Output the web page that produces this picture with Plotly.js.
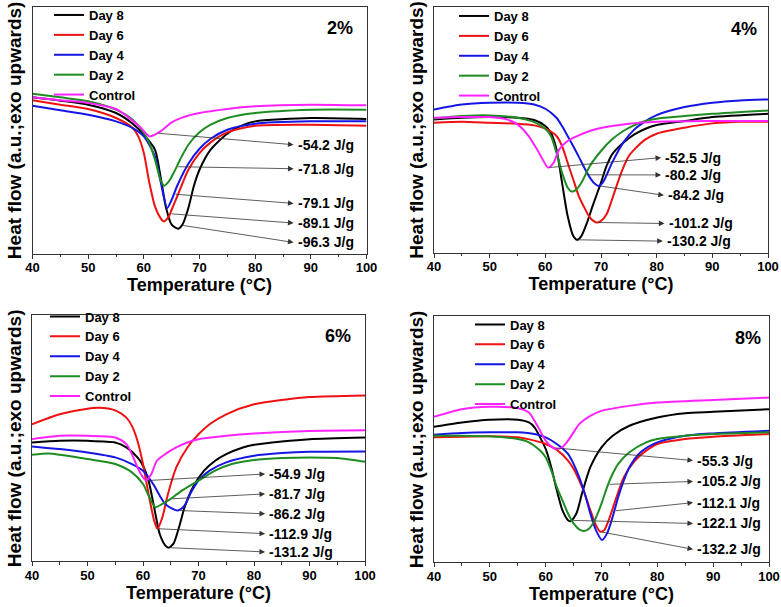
<!DOCTYPE html>
<html><head><meta charset="utf-8">
<script src="https://cdn.plot.ly/plotly-3.0.1.min.js"></script>
<style>html,body{margin:0;padding:0;background:#fff}#chart{width:781px;height:607px}</style>
</head><body><div id="chart"></div>
<script>
// ---------- DATA ----------
const seriesNames = ['Day 8', 'Day 6', 'Day 4', 'Day 2', 'Control'];
const panelLabels = ['2%', '4%', '6%', '8%'];

// Panel 1 (2%)
const p1_day8_T = [40,45,50,55,58,60,62,63,64,65,66.2,67,68,69,70,72,75,78,80,90,100];
const p1_day8_hf = [469,459,447,422,390,357,312,232,137,87,75,89,137,204,252,312,360,387,397,407,404];
const p1_day6_T = [40,45,50,55,58,59,60,61,62,63,63.6,64.5,65,66,68,70,72,75,80,90,100];
const p1_day6_hf = [460,447,434,407,377,352,302,212,142,107,97,112,132,172,252,302,334,364,384,387,384];
const p1_day4_T = [40,45,50,55,58,60,62,63,64.2,65,66,68,70,72,75,80,90,100];
const p1_day4_hf = [444,430,417,397,377,352,292,217,137,162,204,270,315,345,372,390,397,397];
const p1_day2_T = [40,45,50,55,58,60,61,62,63,63.6,64.5,65.5,66.5,68,70,72,75,80,90,100];
const p1_day2_hf = [480,469,457,432,402,362,332,282,222,204,217,247,282,327,364,387,407,422,432,432];
const p1_ctrl_T = [40,45,50,55,57,59.5,61,63,65,67,70,75,80,90,100];
const p1_ctrl_hf = [469,460,452,434,412,377,352,367,394,409,422,434,442,447,445];
const p1_enthalpy = ['-54.2 J/g','-71.8 J/g','-79.1 J/g','-89.1 J/g','-96.3 J/g'];
const p1_peakSeries = ['Control','Day 2','Day 4','Day 6','Day 8'];
const p1_peakT = [62.3, 65.9, 65.4, 64.7, 66.8];

// Panel 2 (4%)
const p2_day8_T = [40,45,50,55,58,60,61,62,63,64,65,65.7,66.5,67.5,68.5,70,71,72,74,76,78,80,85,90,100];
const p2_day8_hf = [401,406,408,406,399,381,361,311,211,111,51,39,51,91,141,211,261,296,331,356,373,384,396,408,418];
const p2_day6_T = [40,45,50,55,58,60,62,63,64,65,66,67,68,69.2,70,71,72,73,74,75,76,78,80,85,90,95,100];
const p2_day6_hf = [391,394,391,388,383,373,351,321,271,221,171,136,106,91,96,116,161,211,256,291,311,341,358,376,389,394,394];
const p2_day4_T = [40,45,50,55,58,60,62,63,64,65,66,67,68,69,69.7,70.5,72,74,76,78,80,85,90,95,100];
const p2_day4_hf = [431,446,451,451,446,433,406,381,351,321,289,256,226,206,201,216,271,331,371,396,414,438,451,458,461];
const p2_day2_T = [40,45,50,55,58,60,61,62,63,64,64.7,65.5,66.5,68,70,72,74,76,78,80,85,90,100];
const p2_day2_hf = [404,411,413,406,393,373,351,301,241,196,184,189,211,261,306,341,366,384,396,403,411,418,428];
const p2_ctrl_T = [40,45,50,53,55,57,58.5,59.5,60.5,61.5,62.5,64,66,68,70,75,80,90,100];
const p2_ctrl_hf = [406,408,408,401,386,351,311,281,256,271,311,336,353,366,375,388,394,396,396];
const p2_enthalpy = ['-52.5 J/g','-80.2 J/g','-84.2 J/g','-101.2 J/g','-130.2 J/g'];
const p2_peakSeries = ['Control','Day 2','Day 4','Day 6','Day 8'];
const p2_peakT = [60.5, 67.2, 69.7, 69.2, 65.7];

// Panel 3 (6%)
const p3_day8_T = [40,45,50,55,57,59,60,61,62,63,64,64.6,65.5,66.5,67.5,69,71,73,75,78,80,85,90,100];
const p3_day8_hf = [358,363,363,358,343,313,288,243,163,83,48,41,53,103,163,223,273,303,323,343,351,361,368,373];
const p3_day6_T = [40,45,50,52,55,57,58,59,60,61,62,62.6,63.5,64.5,66,68,70,72,75,80,85,90,100];
const p3_day6_hf = [413,443,460,463,455,433,408,363,293,203,123,98,133,203,283,343,383,413,443,473,486,495,500];
const p3_day4_T = [40,45,50,55,58,60,61,62,63,64,65,66.3,67.5,68.5,70,72,75,80,85,90,100];
const p3_day4_hf = [346,338,328,313,293,273,253,228,198,173,161,153,168,203,243,273,298,318,326,330,331];
const p3_day2_T = [40,43,45,50,55,58,60,61,62.2,63.5,65,67,70,73,76,80,85,90,95,100];
const p3_day2_hf = [321,325,321,308,293,268,233,198,163,173,188,213,243,273,293,305,311,313,311,300];
const p3_ctrl_T = [40,45,50,55,57,58,59,60,60.6,61.5,62.5,64,66,68,70,75,80,90,100];
const p3_ctrl_hf = [368,378,378,373,353,323,283,253,243,263,303,323,343,358,368,378,385,393,395];
const p3_enthalpy = ['-54.9 J/g','-81.7 J/g','-86.2 J/g','-112.9 J/g','-131.2 J/g'];
const p3_peakSeries = ['Control','Day 2','Day 4','Day 6','Day 8'];
const p3_peakT = [60.6, 65.0, 66.3, 62.6, 64.6];

// Panel 4 (8%)
const p4_day8_T = [40,45,50,55,57,58,59,60,61,62,63,64,64.5,65.5,66.5,68,70,72,75,80,85,90,100];
const p4_day8_hf = [409,422,430,430,422,407,377,342,287,217,157,127,124,147,207,287,347,382,412,437,450,454,462];
const p4_day6_T = [40,45,50,55,58,60,62,64,65,66,67,68,69,69.8,70.5,71.5,72.5,74,76,78,80,85,90,100];
const p4_day6_hf = [377,379,380,377,367,357,339,307,282,247,207,157,112,92,97,137,187,257,307,337,357,372,379,387];
const p4_day4_T = [40,45,50,55,58,60,62,64,65,66,67,68,69,70.1,71,72,73,74,75,77,80,85,90,100];
const p4_day4_hf = [385,390,392,392,387,377,357,327,297,257,207,147,97,67,87,137,197,247,287,332,362,382,389,397];
const p4_day2_T = [40,45,50,55,57,59,60,61,62,63,64,65,66,66.9,67.8,68.8,70,71,72,73,75,78,80,85,90,100];
const p4_day2_hf = [382,382,380,372,362,337,317,277,227,187,147,117,99,94,102,127,177,227,267,297,332,362,372,382,387,392];
const p4_ctrl_T = [40,45,50,55,57,58,59,60,61,62,63,64,65,66,68,70,75,80,90,100];
const p4_ctrl_hf = [439,462,469,465,452,427,397,367,349,342,347,367,392,417,442,457,472,482,490,497];
const p4_enthalpy = ['-55.3 J/g','-105.2 J/g','-112.1 J/g','-122.1 J/g','-132.2 J/g'];
const p4_peakSeries = ['Control','Day 2','Day 4','Day 8','Day 6'];
const p4_peakT = [61.5, 71.2, 72.3, 64.6, 69.8];

// ---------- STYLE / LAYOUT CONFIG ----------
const colors = {'Day 8':'#000000','Day 6':'#ee1111','Day 4':'#1515e6','Day 2':'#1e8c22','Control':'#ff22ff'};
const W = 781, H = 607;
const panels = [
  {T:[p1_day8_T,p1_day6_T,p1_day4_T,p1_day2_T,p1_ctrl_T], Y:[p1_day8_hf,p1_day6_hf,p1_day4_hf,p1_day2_hf,p1_ctrl_hf],
   lab:p1_enthalpy, ps:p1_peakSeries, pT:p1_peakT,
   box:[32.5,366.5,4,252], yr:740, textX:[87.3,87.3,87.3,87.3,87.3], textY:[327,255,151,92,34],
   leg:[49,-3], pct:[340,25]},
  {T:[p2_day8_T,p2_day6_T,p2_day4_T,p2_day2_T,p2_ctrl_T], Y:[p2_day8_hf,p2_day6_hf,p2_day4_hf,p2_day2_hf,p2_ctrl_hf],
   lab:p2_enthalpy, ps:p2_peakSeries, pT:p2_peakT,
   box:[434,768,4,251], yr:739, textX:[81.2,81.2,81.7,81.8,81.5], textY:[286,234,173,88,35],
   leg:[454,-2], pct:[744,26]},
  {T:[p3_day8_T,p3_day6_T,p3_day4_T,p3_day2_T,p3_ctrl_T], Y:[p3_day8_hf,p3_day6_hf,p3_day4_hf,p3_day2_hf,p3_ctrl_hf],
   lab:p3_enthalpy, ps:p3_peakSeries, pT:p3_peakT,
   box:[32,365,314,561], yr:741, textX:[82.4,82.4,82.4,82.4,82.4], textY:[263,203,143,83,28],
   leg:[45,300], pct:[338,335]},
  {T:[p4_day8_T,p4_day6_T,p4_day4_T,p4_day2_T,p4_ctrl_T], Y:[p4_day8_hf,p4_day6_hf,p4_day4_hf,p4_day2_hf,p4_ctrl_hf],
   lab:p4_enthalpy, ps:p4_peakSeries, pT:p4_peakT,
   box:[434,769,315,562], yr:742, textX:[86.8,86.8,86.8,86.8,86.8], textY:[307,244,180,117,39],
   leg:[470,308], pct:[748,337]}
];

function interp(xs, ys, x) {
  for (let i = 0; i < xs.length - 1; i++) {
    if (x >= xs[i] && x <= xs[i+1]) {
      const f = (x - xs[i]) / (xs[i+1] - xs[i]);
      return ys[i] + f * (ys[i+1] - ys[i]);
    }
  }
  return ys[ys.length-1];
}

const FONT = 'Liberation Sans, Arial, Helvetica, sans-serif';
const traces = [];
const layout = {
  width: W, height: H, margin: {l:0, r:0, t:0, b:0},
  paper_bgcolor: '#ffffff', plot_bgcolor: '#ffffff',
  font: {family: FONT, color: '#000', size: 13, weight: 'bold'},
  annotations: [], showlegend: true
};

panels.forEach((p, k) => {
  const n = k === 0 ? '' : String(k+1);
  const xa = 'x' + n, ya = 'y' + n;
  const legName = 'legend' + n;
  seriesNames.forEach((s, i) => {
    traces.push({
      type: 'scatter', mode: 'lines', x: p.T[i], y: p.Y[i], name: s,
      xaxis: xa, yaxis: ya, legend: legName,
      line: {color: colors[s], width: 2, shape: 'spline', smoothing: 0.7},
      hoverinfo: 'skip'
    });
  });
  const [x0, x1, yt, yb] = p.box;
  layout['xaxis' + n] = {
    domain: [x0 / W, x1 / W], anchor: ya, range: [40, 100], tick0: 40, dtick: 10,
    ticks: 'outside', ticklen: 4, tickwidth: 1, tickcolor: '#333', ticklabelstandoff: -2,
    minor: {ticks: 'outside', ticklen: 2.5, dtick: 5, tickcolor: '#333', tickwidth: 1, showgrid: false},
    showline: true, linecolor: '#333', linewidth: 1, mirror: true,
    showgrid: false, zeroline: false,
    tickfont: {family: FONT, size: 13, color: '#000', weight: 'bold'},
    title: {text: 'Temperature (°C)', font: {family: FONT, size: 18, color: '#000', weight: 'bold'}, standoff: 2}
  };
  layout['yaxis' + n] = {
    domain: [1 - yb / H, 1 - yt / H], anchor: xa, range: [0, p.yr],
    showticklabels: false, ticks: '', showline: true, linecolor: '#333', linewidth: 1, mirror: true,
    showgrid: false, zeroline: false,
    title: {text: 'Heat flow (a.u.;exo upwards)', font: {family: FONT, size: 19, color: '#000', weight: 'bold'}, standoff: 4}
  };
  layout[legName] = {
    x: p.leg[0] / W, y: 1 - p.leg[1] / H, xanchor: 'left', yanchor: 'top', xref: 'paper', yref: 'paper',
    bgcolor: 'rgba(0,0,0,0)', borderwidth: 0, tracegroupgap: 0,
    font: {family: FONT, size: 13, color: '#000', weight: 'bold'}
  };
  layout.annotations.push({
    xref: 'paper', yref: 'paper', x: p.pct[0] / W, y: 1 - p.pct[1] / H, xanchor: 'center', yanchor: 'middle',
    text: panelLabels[k], showarrow: false, font: {family: FONT, size: 18, color: '#000', weight: 'bold'}
  });
  p.lab.forEach((lab, j) => {
    const si = seriesNames.indexOf(p.ps[j]);
    const tailY = interp(p.T[si], p.Y[si], p.pT[j]);
    layout.annotations.push({
      xref: xa, yref: ya, axref: xa, ayref: ya,
      x: p.textX[j] - 0.4, y: p.textY[j], ax: p.pT[j], ay: tailY,
      text: '', showarrow: true, arrowhead: 2, arrowsize: 1.4, arrowwidth: 0.8,
      arrowcolor: '#333', standoff: 0, startstandoff: 0
    });
    layout.annotations.push({
      xref: xa, yref: ya, x: p.textX[j], y: p.textY[j], xanchor: 'left', yanchor: 'middle',
      text: lab, showarrow: false, font: {family: FONT, size: 14, color: '#000', weight: 'bold'}
    });
  });
});

Plotly.newPlot('chart', traces, layout, {displayModeBar: false, staticPlot: true});
</script>
</body></html>
